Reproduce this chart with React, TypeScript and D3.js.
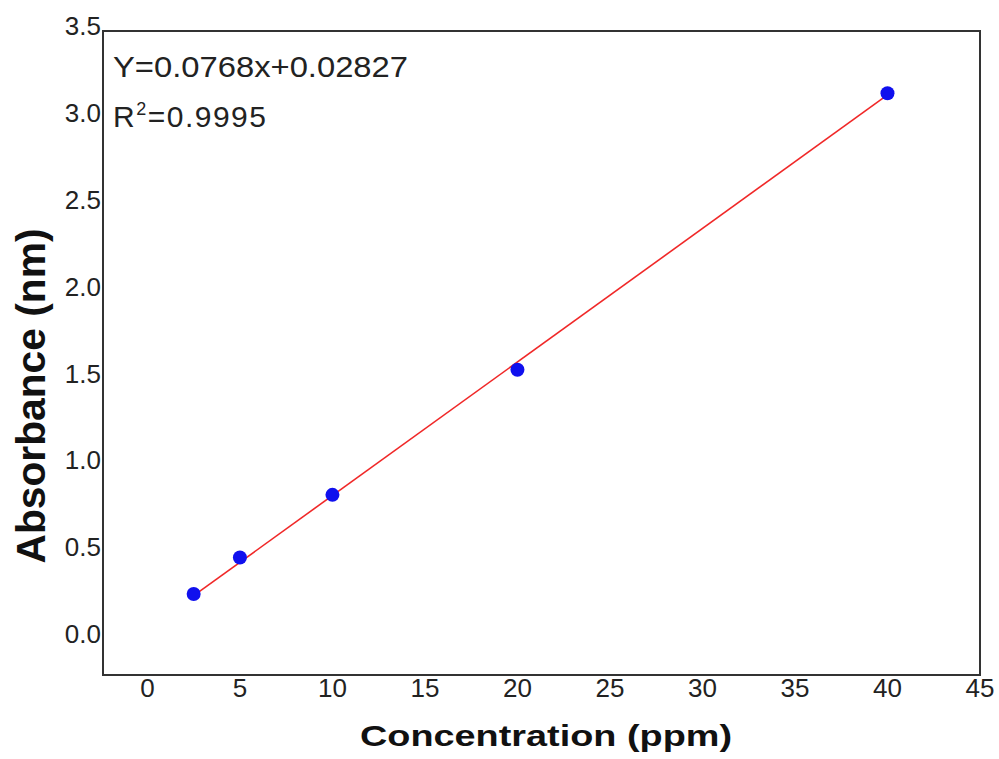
import React from "react";
import * as d3 from "d3";

const concentration = [2.5, 5, 10, 20, 40];
const absorbance = [0.23, 0.44, 0.8, 1.52, 3.11];
const xTicks = [0, 5, 10, 15, 20, 25, 30, 35, 40, 45];
const yTicks = [0.0, 0.5, 1.0, 1.5, 2.0, 2.5, 3.0, 3.5];
const fitSlope = 0.0768;
const fitIntercept = 0.02827;
const fitRange = [2.5, 40];
const equationText = "Y=0.0768x+0.02827";
const r2Value = "0.9995";
const xTitle = "Concentration (ppm)";
const yTitle = "Absorbance (nm)";

const W = 999;
const H = 759;
const left = 103;
const right = 980;
const top = 31;
const bottom = 675;

export default function App() {
  const x = d3.scaleLinear().domain([-2.4, 45]).range([left, right]);
  const y = d3.scaleLinear().domain([-0.236, 3.468]).range([bottom, top]);
  const font = "'Liberation Sans', Arial, sans-serif";

  const fitLine = d3
    .line<number>()
    .x((d) => x(d))
    .y((d) => y(fitSlope * d + fitIntercept));

  return (
    <svg
      width={W}
      height={H}
      style={{ position: "absolute", left: 0, top: 0, background: "#fff" }}
      fontFamily={font}
    >
      <rect x={0} y={0} width={W} height={H} fill="#fff" />
      {/* fit line */}
      <path d={fitLine(fitRange) || ""} stroke="#f02828" strokeWidth={1.6} fill="none" />
      {/* points */}
      {concentration.map((c, i) => (
        <circle key={i} cx={x(c)} cy={y(absorbance[i])} r={7} fill="#1010ee" />
      ))}
      {/* frame */}
      <rect
        x={left}
        y={top}
        width={right - left}
        height={bottom - top}
        fill="none"
        stroke="#333"
        strokeWidth={2}
      />
      {/* x tick labels */}
      {xTicks.map((t) => (
        <text
          key={"x" + t}
          x={x(t)}
          y={697}
          textAnchor="middle"
          fontSize={26}
          fill="#222"
        >
          {t}
        </text>
      ))}
      {/* y tick labels */}
      {yTicks.map((t) => (
        <text
          key={"y" + t}
          x={101}
          y={y(t)}
          dy="0.36em"
          textAnchor="end"
          fontSize={26}
          fill="#222"
        >
          {t.toFixed(1)}
        </text>
      ))}
      {/* equation */}
      <text x={113} y={77} fontSize={30} fill="#222" textLength={295} lengthAdjust="spacingAndGlyphs">
        {equationText}
      </text>
      <text x={113} y={127} fontSize={30} fill="#222" letterSpacing={1.5}>
        R
        <tspan fontSize={18} dy={-12}>
          2
        </tspan>
        <tspan dy={12}>={r2Value}</tspan>
      </text>
      {/* axis titles */}
      <text
        x={546}
        y={746}
        textAnchor="middle"
        fontSize={30}
        fontWeight="bold"
        fill="#111"
        textLength={372}
        lengthAdjust="spacingAndGlyphs"
      >
        {xTitle}
      </text>
      <text
        transform={`translate(45, 396) rotate(-90)`}
        textAnchor="middle"
        fontSize={40}
        fontWeight="bold"
        fill="#111"
        textLength={335}
        lengthAdjust="spacingAndGlyphs"
      >
        {yTitle}
      </text>
    </svg>
  );
}
